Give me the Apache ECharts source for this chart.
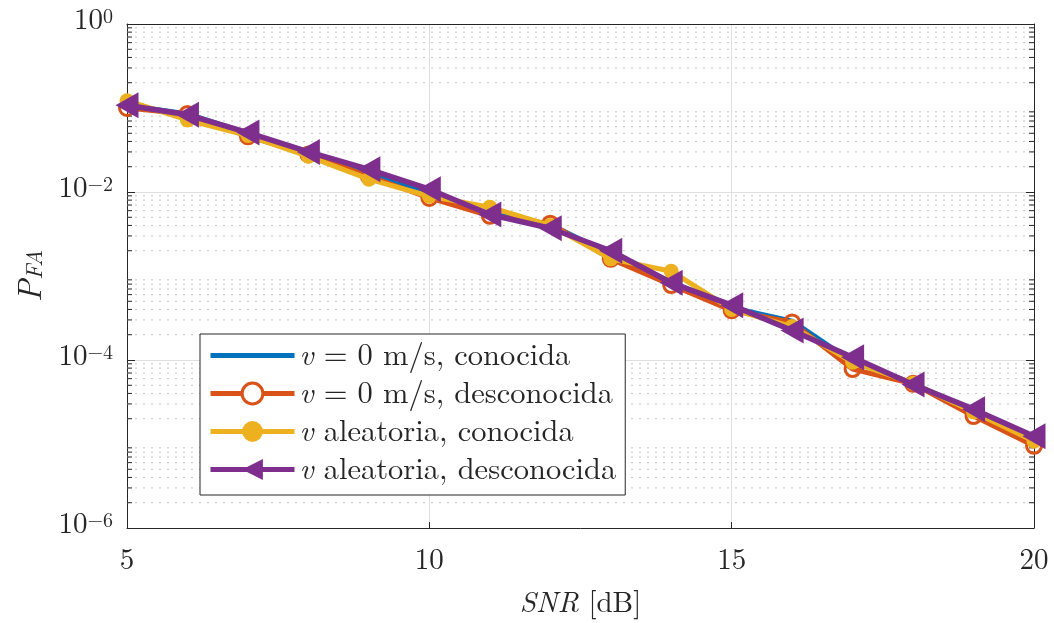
<!DOCTYPE html>
<html>
<head>
<meta charset="utf-8">
<script src="https://cdn.jsdelivr.net/npm/echarts@6/dist/echarts.min.js"></script>
<style>
html,body{margin:0;padding:0;background:#fff;}
#chart{width:1054px;height:623px;}
</style>
</head>
<body>
<div id="chart"></div>
<script>
const snr = [5, 6, 7, 8, 9, 10, 11, 12, 13, 14, 15, 16, 17, 18, 19, 20];
const v0Conocida = [0.108, 0.085, 0.050, 0.029, 0.0165, 0.0095, 0.0055, 0.0041, 0.0018, 0.00085, 0.00042, 0.00029, 9.5e-5, 5.3e-5, 2.4e-5, 1.1e-5];
const v0Desconocida = [0.100, 0.085, 0.046, 0.028, 0.0154, 0.0085, 0.0052, 0.0042, 0.0016, 0.00078, 0.00039, 0.00028, 7.8e-5, 5.2e-5, 2.15e-5, 9.5e-6];
const vAleConocida = [0.122, 0.072, 0.047, 0.0266, 0.0142, 0.0089, 0.0066, 0.0040, 0.0016, 0.00114, 0.00040, 0.00025, 9.4e-5, 5.3e-5, 2.4e-5, 1.08e-5];
const vAleDesconocida = [0.108, 0.083, 0.051, 0.030, 0.0186, 0.0108, 0.0054, 0.0037, 0.0020, 0.00083, 0.00045, 0.000225, 0.000108, 5.1e-5, 2.6e-5, 1.24e-5];
const seriesNames = ['v0c', 'v0d', 'vac', 'vad'];
const legendLabels = {
  v0c: '{i|v} = 0 m/s, conocida',
  v0d: '{i|v} = 0 m/s, desconocida',
  vac: '{i|v} aleatoria, conocida',
  vad: '{i|v} aleatoria, desconocida'
};
const xTicks = [5, 10, 15, 20];
const yMin = 1e-6, yMax = 1;

// minor log positions (2..9 per decade) for the dotted minor grid
const minorVals = [];
for (let d = -6; d < 0; d++) {
  for (let m = 2; m <= 9; m++) minorVals.push(m * Math.pow(10, d));
}

const FONT = "'Latin Modern Roman','Latin Modern Math','CMU Serif','Liberation Serif',serif";
const AX = '#262626';
const C_BLUE = '#0072BD', C_ORANGE = '#D95319', C_YELLOW = '#EDB120', C_PURPLE = '#7E2F8E';
const pair = arr => snr.map((x, i) => [x, arr[i]]);

const chart = echarts.init(document.getElementById('chart'), null, {renderer: 'canvas'});

const option = {
  backgroundColor: '#fff',
  animation: false,
  grid: {left: 127, right: 20, top: 24, bottom: 91},
  xAxis: [{
    type: 'value', min: 5, max: 20, interval: 5,
    axisLine: {show: true, onZero: false, lineStyle: {color: AX, width: 1}},
    axisTick: {show: true, inside: true, length: 6, lineStyle: {color: AX}},
    axisLabel: {fontFamily: FONT, fontSize: 29, color: AX, margin: 18},
    splitLine: {show: true, lineStyle: {color: '#e0e0e0', width: 1}},
    name: '{i|SNR} [dB]',
    nameLocation: 'middle', nameGap: 61,
    nameTextStyle: {fontFamily: FONT, fontSize: 29, color: AX,
      rich: {i: {fontFamily: FONT, fontSize: 29, fontStyle: 'italic', color: AX}}}
  }, {
    type: 'value', min: 5, max: 20, interval: 5, position: 'top',
    axisLine: {show: true, onZero: false, lineStyle: {color: AX, width: 1}},
    axisTick: {show: false}, axisLabel: {show: false}, splitLine: {show: false}
  }],
  yAxis: [{
    type: 'log', logBase: 10, min: yMin, max: yMax, interval: 2,
    axisLine: {show: true, onZero: false, lineStyle: {color: AX, width: 1}},
    axisTick: {show: true, inside: true, length: 8, lineStyle: {color: AX}},
    axisLabel: {
      margin: 14,
      padding: [0, 0, 7, 0],
      formatter: function (v) {
        const e = Math.round(Math.log10(v));
        return '{b|10}{s|' + (e < 0 ? '\u2212' + (-e) : e) + '}';
      },
      rich: {
        b: {fontFamily: FONT, fontSize: 29, color: AX, lineHeight: 28, verticalAlign: 'bottom'},
        s: {fontFamily: FONT, fontSize: 20, color: AX, lineHeight: 16, verticalAlign: 'top'}
      }
    },
    splitLine: {show: true, lineStyle: {color: '#e0e0e0', width: 1}},
    name: '{p|P}{s|FA}',
    nameLocation: 'middle', nameGap: 80, nameRotate: 90,
    nameTextStyle: {
      rich: {
        p: {fontFamily: FONT, fontSize: 33, fontStyle: 'italic', color: AX, lineHeight: 32, verticalAlign: 'top'},
        s: {fontFamily: FONT, fontSize: 23, fontStyle: 'italic', color: AX, lineHeight: 22, verticalAlign: 'bottom'}
      },
      lineHeight: 46
    }
  }, {
    type: 'log', logBase: 10, min: yMin, max: yMax, interval: 2, position: 'right',
    axisLine: {show: true, onZero: false, lineStyle: {color: AX, width: 1}},
    axisTick: {show: true, inside: true, length: 8, lineStyle: {color: AX}},
    axisLabel: {show: false}, splitLine: {show: false}
  }],
  legend: {
    show: true,
    data: [
      {name: 'v0c', itemStyle: {opacity: 0}},
      {name: 'v0d', itemStyle: {color: '#fff', borderColor: C_ORANGE, borderWidth: 3}},
      {name: 'vac'},
      {name: 'vad'}
    ],
    orient: 'vertical',
    left: 200, top: 334,
    padding: [6, 9, 10, 8],
    itemGap: 7,
    itemWidth: 84, itemHeight: 26,
    backgroundColor: '#fff',
    borderColor: AX, borderWidth: 1, borderRadius: 0,
    lineStyle: {width: 5},
    formatter: name => legendLabels[name],
    textStyle: {
      fontFamily: FONT, fontSize: 30.5, color: AX, lineHeight: 31,
      rich: {i: {fontFamily: FONT, fontSize: 30.5, fontStyle: 'italic', color: AX, lineHeight: 31}}
    }
  },
  series: [
    {
      type: 'custom', name: 'minorgrid', silent: true, z: 1,
      coordinateSystem: 'cartesian2d', xAxisIndex: 0, yAxisIndex: 0,
      data: minorVals.map(v => [5, v]),
      renderItem: function (params, api) {
        const v = api.value(1);
        const p1 = api.coord([5, v]);
        const p2 = api.coord([20, v]);
        return {
          type: 'group',
          children: [
            {type: 'line', shape: {x1: p1[0], y1: p1[1], x2: p2[0], y2: p2[1]},
              style: {stroke: '#c4c4c4', lineWidth: 1, lineDash: [2, 6]}},
            {type: 'line', shape: {x1: p1[0], y1: p1[1], x2: p1[0] + 5, y2: p1[1]},
              style: {stroke: AX, lineWidth: 1}},
            {type: 'line', shape: {x1: p2[0] - 5, y1: p2[1], x2: p2[0], y2: p2[1]},
              style: {stroke: AX, lineWidth: 1}}
          ]
        };
      }
    },
    {
      name: 'v0c', type: 'line', data: pair(v0Conocida), z: 3,
      symbol: 'none', color: C_BLUE,
      lineStyle: {width: 5, color: C_BLUE}
    },
    {
      name: 'v0d', type: 'line', data: pair(v0Desconocida), z: 4,
      symbol: 'circle', symbolSize: 15, color: C_ORANGE,
      itemStyle: {color: 'rgba(255,255,255,0)', borderColor: C_ORANGE, borderWidth: 3},
      lineStyle: {width: 5, color: C_ORANGE}
    },
    {
      name: 'vac', type: 'line', data: pair(vAleConocida), z: 5,
      symbol: 'circle', symbolSize: 15, color: C_YELLOW,
      itemStyle: {color: C_YELLOW},
      lineStyle: {width: 5, color: C_YELLOW}
    },
    {
      name: 'vad', type: 'line', data: pair(vAleDesconocida), z: 6,
      symbol: 'triangle', symbolSize: [26, 23], symbolRotate: 90, color: C_PURPLE,
      itemStyle: {color: C_PURPLE},
      lineStyle: {width: 5.5, color: C_PURPLE}
    }
  ]
};
chart.setOption(option);
</script>
</body>
</html>
